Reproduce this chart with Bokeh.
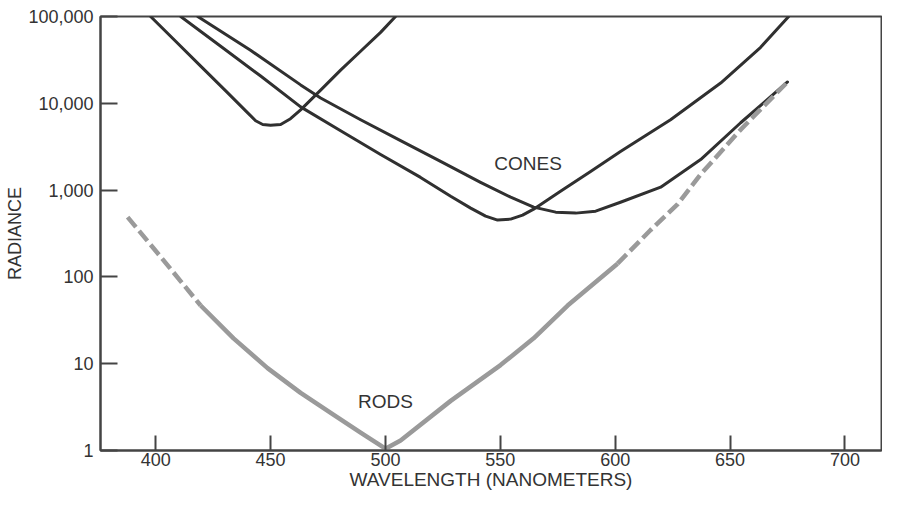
from bokeh.plotting import figure
from bokeh.models import FixedTicker, NumeralTickFormatter, Range1d
from bokeh.core.properties import value
from bokeh.embed import file_html
from bokeh.resources import INLINE

# ---- data (wavelength in nm, radiance) ----
x_ticks = [400, 450, 500, 550, 600, 650, 700]
y_ticks = [1, 10, 100, 1000, 10000, 100000]

s_cone_wl = [397.8, 408.7, 419.6, 430.5, 439.2, 443.5, 446.6, 450.0, 454.4, 458.7, 463.1, 471.8, 480.5, 489.2, 497.9, 504.4]
s_cone_rad = [100000, 51800, 26800, 13900, 8190, 6290, 5700, 5600, 5700, 6640, 8400, 14200, 24100, 39800, 65600, 100000]

m_cone_wl = [410.9, 428.3, 445.7, 463.1, 480.5, 497.9, 515.3, 528.4, 537.1, 543.6, 548.8, 554.5, 559.7, 564.5, 576.2, 589.3, 602.3, 624.1, 645.9, 663.3, 675.5]
m_cone_rad = [100000, 45400, 20600, 9100, 4830, 2570, 1400, 849, 620, 502, 451, 463, 515, 603, 968, 1640, 2780, 6460, 17100, 44200, 100000]

l_cone_wl = [418.3, 441.3, 463.1, 471.8, 489.2, 506.6, 524.0, 541.4, 554.5, 564.5, 574.1, 582.8, 591.5, 602.3, 619.8, 637.2, 654.6, 675.0]
l_cone_rad = [100000, 40800, 16300, 11500, 6460, 3720, 2140, 1230, 828, 636, 557, 543, 572, 724, 1080, 2250, 5970, 17600]

rods_wl = [387.8, 402.2, 419.6, 433.9, 448.7, 463.1, 477.5, 489.2, 500.0, 506.6, 528.4, 550.1, 564.5, 579.3, 601.0, 615.4, 627.2, 637.2, 654.6, 675.0]
rods_rad = [489, 170, 46.8, 19.6, 8.9, 4.61, 2.58, 1.61, 1.05, 1.30, 3.73, 9.64, 19.6, 46.8, 142, 347, 689, 1520, 4970, 17600]

FONT = "Liberation Sans"
TXT = "#333333"
LINE = "#444444"
CONE_COLOR = "#303030"
ROD_COLOR = "#9a9a9a"

p = figure(width=882, height=494,
           x_range=Range1d(376.0, 715.9), y_range=Range1d(1, 100000),
           y_axis_type="log", output_backend="svg", toolbar_location=None,
           min_border_left=100, min_border_right=1, min_border_top=16, min_border_bottom=44)

p.xgrid.visible = False
p.ygrid.visible = False
p.outline_line_color = LINE
p.outline_line_width = 2
p.background_fill_color = "white"
p.border_fill_color = "white"

for ax in p.axis:
    ax.axis_line_color = LINE
    ax.axis_line_width = 2
    ax.major_tick_line_color = LINE
    ax.major_tick_line_width = 2
    ax.minor_tick_line_color = None
    ax.major_tick_out = 0
    ax.major_label_text_font = FONT
    ax.major_label_text_font_size = "18px"
    ax.major_label_text_color = TXT
    ax.axis_label_text_font = FONT
    ax.axis_label_text_font_style = "normal"
    ax.axis_label_text_color = TXT

p.xaxis.ticker = FixedTicker(ticks=x_ticks)
p.xaxis.major_tick_in = 15
p.xaxis.major_label_standoff = 2
p.xaxis.axis_label = "WAVELENGTH (NANOMETERS)"
p.xaxis.axis_label_text_font_size = "19px"
p.xaxis.axis_label_standoff = 0

p.yaxis.ticker = FixedTicker(ticks=y_ticks)
p.yaxis.formatter = NumeralTickFormatter(format="0,0")
p.yaxis.major_tick_in = 17
p.yaxis.major_label_standoff = 7
p.yaxis.axis_label = "RADIANCE"
p.yaxis.axis_label_text_font_size = "18px"
p.yaxis.axis_label_standoff = 0

# cones
for wl, rad in [(s_cone_wl, s_cone_rad), (m_cone_wl, m_cone_rad), (l_cone_wl, l_cone_rad)]:
    p.line(wl, rad, line_color=CONE_COLOR, line_width=3, line_join="round", line_cap="round")

# rods: dashed at both ends, solid in the middle
p.line(rods_wl[:3], rods_rad[:3], line_color=ROD_COLOR, line_width=4.5, line_dash="13 5")
p.line(rods_wl[2:15], rods_rad[2:15], line_color=ROD_COLOR, line_width=4.5, line_join="round")
p.line(rods_wl[14:], rods_rad[14:], line_color=ROD_COLOR, line_width=4.5, line_dash="13 5")

p.text(x=[562.1], y=[2020], text=["CONES"], text_align="center", text_baseline="middle",
       text_font=value(FONT), text_font_size="19px", text_color=TXT)
p.text(x=[500.0], y=[3.7], text=["RODS"], text_align="center", text_baseline="middle",
       text_font=value(FONT), text_font_size="19px", text_color=TXT)

open("out.html", "w").write(file_html(p, INLINE))
